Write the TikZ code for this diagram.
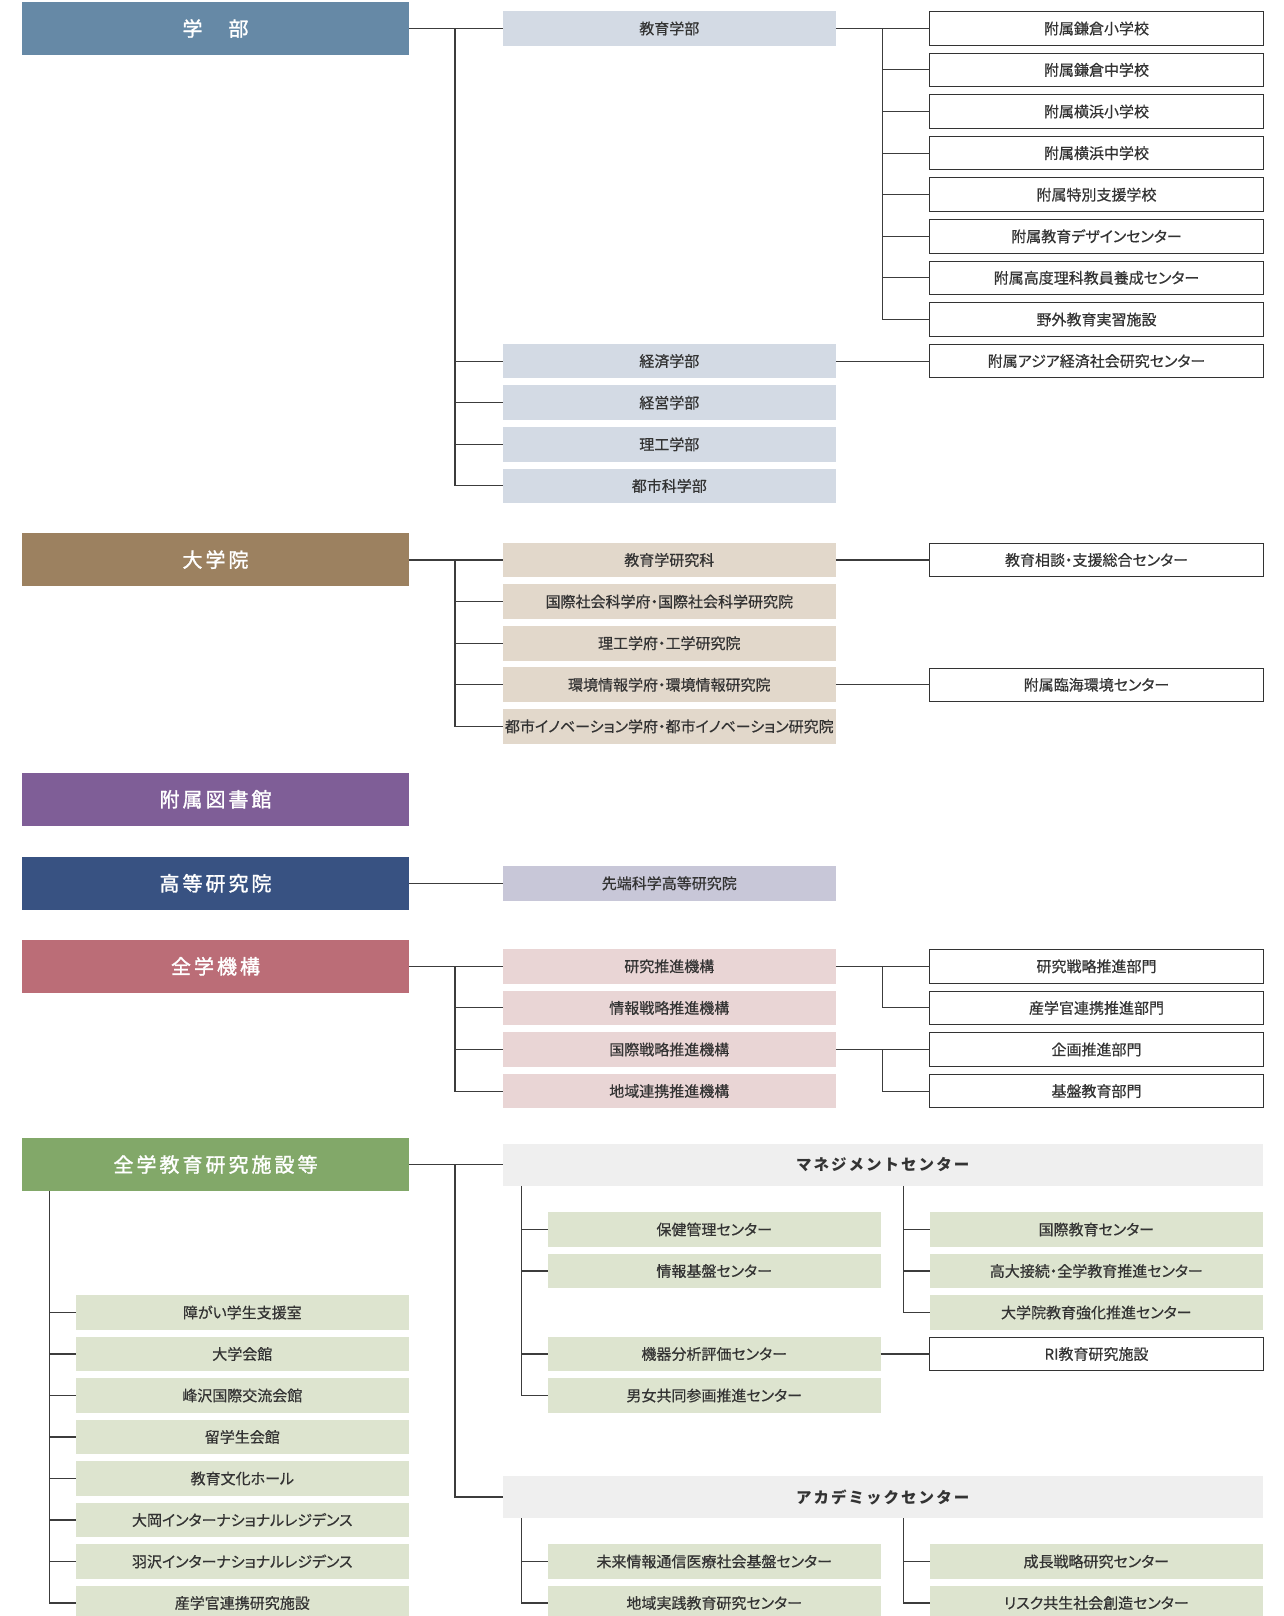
\documentclass[tikz,border=0pt]{standalone}
\usepackage{fontspec}
\setmainfont{Noto Sans CJK JP}
\newfontfamily\childfont{Noto Sans CJK JP}[RawFeature=+palt,FakeBold=0.5]
\newfontfamily\hdrfont{Noto Sans CJK JP}[LetterSpace=15,FakeBold=1.5]
\newfontfamily\subhfont{Noto Sans CJK JP}[LetterSpace=13]
\definecolor{cGak}{HTML}{6689A6}
\definecolor{cGakL}{HTML}{D3DAE4}
\definecolor{cDai}{HTML}{9C8160}
\definecolor{cDaiL}{HTML}{E2D8CB}
\definecolor{cLib}{HTML}{7F5E97}
\definecolor{cKou}{HTML}{385282}
\definecolor{cKouL}{HTML}{C8C7D8}
\definecolor{cKik}{HTML}{BB6D77}
\definecolor{cKikL}{HTML}{E9D5D5}
\definecolor{cZen}{HTML}{82A869}
\definecolor{cZenL}{HTML}{DDE4CF}
\definecolor{cMgm}{HTML}{EFEFEF}
\definecolor{cTxt}{HTML}{333333}
\definecolor{cLine}{HTML}{3C3C3C}
\tikzset{
  base/.style={rectangle,inner sep=0pt,outer sep=0pt,anchor=center,text=cTxt,font=\childfont\fontsize{15}{17}\selectfont},
  hdr/.style={base,minimum width=387pt,minimum height=53pt,text=white,font=\hdrfont\fontsize{20}{22}\selectfont},
  midbox/.style={base,minimum width=333.3pt,minimum height=34.7pt},
  rbox/.style={base,minimum width=333.3pt,minimum height=33.5pt,draw=cTxt,line width=1.1pt,fill=white},
  gbox/.style={base,minimum width=333pt,minimum height=34.7pt,fill=cZenL},
  subhdr/.style={base,minimum width=760pt,minimum height=42pt,fill=cMgm,font=\subhfont\bfseries\fontsize{15.5}{18}\selectfont},
  conn/.style={draw=cLine,line width=1.1pt},
}
\begin{document}
\begin{tikzpicture}[x=1pt,y=-1pt]
\useasboundingbox (0,0) rectangle (1284,1616);
\fill[white] (0,0) rectangle (1284,1616);
% ---------- 学部 ----------
\node[hdr,fill=cGak] (gakubu) at (215.5,28.5) {学　部};
\node[midbox,fill=cGakL] (kyoiku) at (669.3,28.5) {教育学部};
\node[midbox,fill=cGakL] (keizai) at (669.3,361.1) {経済学部};
\node[midbox,fill=cGakL] (keiei) at (669.3,402.7) {経営学部};
\node[midbox,fill=cGakL] (riko) at (669.3,444.3) {理工学部};
\node[midbox,fill=cGakL] (toshi) at (669.3,485.9) {都市科学部};
\node[rbox] (f1) at (1096.5,28.5) {附属鎌倉小学校};
\node[rbox] (f2) at (1096.5,69.9) {附属鎌倉中学校};
\node[rbox] (f3) at (1096.5,111.5) {附属横浜小学校};
\node[rbox] (f4) at (1096.5,153.1) {附属横浜中学校};
\node[rbox] (f5) at (1096.5,194.7) {附属特別支援学校};
\node[rbox] (f6) at (1096.5,236.3) {附属教育デザインセンター};
\node[rbox] (f7) at (1096.5,277.9) {附属高度理科教員養成センター};
\node[rbox] (f8) at (1096.5,319.5) {野外教育実習施設};
\node[rbox] (f9) at (1096.5,361.1) {附属アジア経済社会研究センター};
\coordinate (b1) at (455,28.5);
\coordinate (b2) at (882.7,28.5);
\draw[conn] (gakubu.east) -- (kyoiku.west);
\draw[conn] (b1) |- (toshi.west);
\foreach \n in {keizai,keiei,riko} \draw[conn] (b1 |- \n.west) -- (\n.west);
\draw[conn] (kyoiku.east) -- (f1.west);
\draw[conn] (b2) |- (f8.west);
\foreach \n in {f2,f3,f4,f5,f6,f7} \draw[conn] (b2 |- \n.west) -- (\n.west);
\draw[conn] (keizai.east) -- (f9.west);
% ---------- 大学院 ----------
\node[hdr,fill=cDai] (daigakuin) at (215.5,559.6) {大学院};
\node[midbox,fill=cDaiL] (d1) at (669.3,560) {教育学研究科};
\node[midbox,fill=cDaiL] (d2) at (669.3,601.6) {国際社会科学府・国際社会科学研究院};
\node[midbox,fill=cDaiL] (d3) at (669.3,643.2) {理工学府・工学研究院};
\node[midbox,fill=cDaiL] (d4) at (669.3,684.8) {環境情報学府・環境情報研究院};
\node[midbox,fill=cDaiL] (d5) at (669.3,726.4) {都市イノベーション学府・都市イノベーション研究院};
\node[rbox] (dr1) at (1096.5,560) {教育相談・支援総合センター};
\node[rbox] (dr4) at (1096.5,684.8) {附属臨海環境センター};
\coordinate (b3) at (455,560);
\draw[conn] (daigakuin.east |- d1.west) -- (d1.west);
\draw[conn] (b3) |- (d5.west);
\foreach \n in {d2,d3,d4} \draw[conn] (b3 |- \n.west) -- (\n.west);
\draw[conn] (d1.east) -- (dr1.west);
\draw[conn] (d4.east) -- (dr4.west);
% ---------- 附属図書館 ----------
\node[hdr,fill=cLib] (lib) at (215.5,799.3) {附属図書館};
% ---------- 高等研究院 ----------
\node[hdr,fill=cKou] (kotou) at (215.5,883.3) {高等研究院};
\node[midbox,fill=cKouL] (sentan) at (669.3,883.3) {先端科学高等研究院};
\draw[conn] (kotou.east) -- (sentan.west);
% ---------- 全学機構 ----------
\node[hdr,fill=cKik] (kikou) at (215.5,966.3) {全学機構};
\node[midbox,fill=cKikL] (k1) at (669.3,966.3) {研究推進機構};
\node[midbox,fill=cKikL] (k2) at (669.3,1007.9) {情報戦略推進機構};
\node[midbox,fill=cKikL] (k3) at (669.3,1049.5) {国際戦略推進機構};
\node[midbox,fill=cKikL] (k4) at (669.3,1091.1) {地域連携推進機構};
\node[rbox] (kr1) at (1096.5,966.3) {研究戦略推進部門};
\node[rbox] (kr2) at (1096.5,1007.9) {産学官連携推進部門};
\node[rbox] (kr3) at (1096.5,1049.5) {企画推進部門};
\node[rbox] (kr4) at (1096.5,1091.1) {基盤教育部門};
\coordinate (b4) at (455,966.3);
\coordinate (b5) at (882.7,966.3);
\coordinate (b6) at (882.7,1049.5);
\draw[conn] (kikou.east) -- (k1.west);
\draw[conn] (b4) |- (k4.west);
\foreach \n in {k2,k3} \draw[conn] (b4 |- \n.west) -- (\n.west);
\draw[conn] (k1.east) -- (kr1.west);
\draw[conn] (b5) |- (kr2.west);
\draw[conn] (k3.east) -- (kr3.west);
\draw[conn] (b6) |- (kr4.west);
% ---------- 全学教育研究施設等 ----------
\node[hdr,fill=cZen] (zen) at (215.5,1164.5) {全学教育研究施設等};
\node[subhdr] (mgmt) at (882.7,1164.8) {マネジメントセンター};
\node[subhdr] (acad) at (882.7,1497) {アカデミックセンター};
\coordinate (b7) at (455,1164.8);
\draw[conn] (zen.east |- mgmt.west) -- (mgmt.west);
\draw[conn] (b7) |- (acad.west);
% management children
\node[gbox] (m1) at (714.2,1229.5) {保健管理センター};
\node[gbox] (m2) at (714.2,1271) {情報基盤センター};
\node[gbox] (m3) at (714.2,1354) {機器分析評価センター};
\node[gbox] (m4) at (714.2,1395.5) {男女共同参画推進センター};
\node[gbox] (n1) at (1096.3,1229.5) {国際教育センター};
\node[gbox] (n2) at (1096.3,1271) {高大接続・全学教育推進センター};
\node[gbox] (n3) at (1096.3,1312.5) {大学院教育強化推進センター};
\node[rbox] (ri) at (1096.5,1354) {RI教育研究施設};
\coordinate (b8) at (521.7,1185.8);
\coordinate (b9) at (903.3,1185.8);
\draw[conn] (b8) |- (m4.west);
\foreach \n in {m1,m2,m3} \draw[conn] (b8 |- \n.west) -- (\n.west);
\draw[conn] (b9) |- (n3.west);
\foreach \n in {n1,n2} \draw[conn] (b9 |- \n.west) -- (\n.west);
\draw[conn] (m3.east) -- (ri.west);
% academic children
\node[gbox] (a1) at (714.2,1561.5) {未来情報通信医療社会基盤センター};
\node[gbox] (a2) at (714.2,1603) {地域実践教育研究センター};
\node[gbox] (a3) at (1096.3,1561.5) {成長戦略研究センター};
\node[gbox] (a4) at (1096.3,1603) {リスク共生社会創造センター};
\coordinate (b10) at (521.7,1518);
\coordinate (b11) at (903.3,1518);
\draw[conn] (b10) |- (a2.west);
\draw[conn] (b10 |- a1.west) -- (a1.west);
\draw[conn] (b11) |- (a4.west);
\draw[conn] (b11 |- a3.west) -- (a3.west);
% left list
\node[gbox] (l1) at (242.3,1312.5) {障がい学生支援室};
\node[gbox] (l2) at (242.3,1354) {大学会館};
\node[gbox] (l3) at (242.3,1395.5) {峰沢国際交流会館};
\node[gbox] (l4) at (242.3,1437) {留学生会館};
\node[gbox] (l5) at (242.3,1478.5) {教育文化ホール};
\node[gbox] (l6) at (242.3,1520) {大岡インターナショナルレジデンス};
\node[gbox] (l7) at (242.3,1561.5) {羽沢インターナショナルレジデンス};
\node[gbox] (l8) at (242.3,1603) {産学官連携研究施設};
\coordinate (b12) at (49.3,1191);
\draw[conn] (b12) |- (l8.west);
\foreach \n in {l1,l2,l3,l4,l5,l6,l7} \draw[conn] (b12 |- \n.west) -- (\n.west);
\end{tikzpicture}
\end{document}
